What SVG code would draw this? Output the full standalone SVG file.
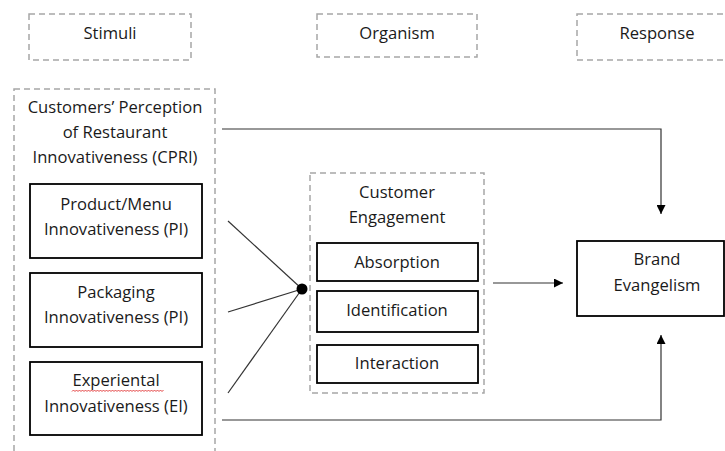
<svg xmlns="http://www.w3.org/2000/svg" width="725" height="451" viewBox="0 0 725 451">
<defs>
<style>
text{font-family:"Open Sans","Liberation Sans",sans-serif;font-size:16.6px;fill:#1a1a1a;text-anchor:middle}
.dash{fill:none;stroke:#a6a6a6;stroke-width:1.5;stroke-dasharray:6,4}
.box{fill:#fff;stroke:#000;stroke-width:1.8}
.ln{fill:none;stroke:#333;stroke-width:1.2}
</style>
<marker id="ah" viewBox="0 0 10 10" refX="10" refY="5" markerWidth="10" markerHeight="9" markerUnits="userSpaceOnUse" orient="auto">
<path d="M0,0 L10,5 L0,10 z" fill="#000"/>
</marker>
</defs>
<rect width="725" height="451" fill="#fff"/>
<g id="stimuli"><rect class="dash" x="29" y="14" width="162" height="46"/><text x="110" y="39">Stimuli</text></g>
<g id="organism"><rect class="dash" x="317" y="14" width="160" height="43"/><text x="397" y="39">Organism</text></g>
<g id="response"><rect class="dash" x="577" y="14" width="160" height="46"/><text x="657" y="39">Response</text></g>
<g id="cpri"><rect class="dash" x="14" y="89" width="201" height="380"/>
<text x="115" y="113">Customers’ Perception</text>
<text x="115" y="138">of Restaurant</text>
<text x="115" y="163">Innovativeness (CPRI)</text></g>
<g id="product"><rect class="box" x="30" y="184" width="172" height="74"/>
<text x="116" y="210">Product/Menu</text><text x="116" y="235">Innovativeness (PI)</text></g>
<g id="packaging"><rect class="box" x="30" y="273" width="172" height="74"/>
<text x="116" y="298">Packaging</text><text x="116" y="323">Innovativeness (PI)</text></g>
<g id="experiential"><rect class="box" x="30" y="362" width="172" height="73"/>
<text x="116" y="386">Experiental</text><text x="116" y="412">Innovativeness (EI)</text>
<path d="M72,391.5 l1.5,-1.5 l1.5,1.5 l1.5,-1.5 l1.5,1.5 l1.5,-1.5 l1.5,1.5 l1.5,-1.5 l1.5,1.5 l1.5,-1.5 l1.5,1.5 l1.5,-1.5 l1.5,1.5 l1.5,-1.5 l1.5,1.5 l1.5,-1.5 l1.5,1.5 l1.5,-1.5 l1.5,1.5 l1.5,-1.5 l1.5,1.5 l1.5,-1.5 l1.5,1.5 l1.5,-1.5 l1.5,1.5 l1.5,-1.5 l1.5,1.5 l1.5,-1.5 l1.5,1.5 l1.5,-1.5 l1.5,1.5 l1.5,-1.5 l1.5,1.5 l1.5,-1.5 l1.5,1.5 l1.5,-1.5 l1.5,1.5 l1.5,-1.5 l1.5,1.5 l1.5,-1.5 l1.5,1.5 l1.5,-1.5 l1.5,1.5 l1.5,-1.5 l1.5,1.5 l1.5,-1.5 l1.5,1.5 l1.5,-1.5 l1.5,1.5 l1.5,-1.5 l1.5,1.5 l1.5,-1.5 l1.5,1.5 l1.5,-1.5 l1.5,1.5 l1.5,-1.5 l1.5,1.5 l1.5,-1.5 l1.5,1.5 l1.5,-1.5 l1.5,1.5 l1.5,-1.5" fill="none" stroke="#e03030" stroke-width="0.9"/></g>
<g id="engagement"><rect class="dash" x="310" y="173" width="174" height="220"/>
<text x="397" y="198">Customer</text><text x="397" y="223">Engagement</text></g>
<g id="absorption"><rect class="box" x="317" y="243" width="161" height="38"/><text x="397" y="268">Absorption</text></g>
<g id="identification"><rect class="box" x="317" y="291" width="161" height="41"/><text x="397" y="316">Identification</text></g>
<g id="interaction"><rect class="box" x="317" y="345" width="161" height="38"/><text x="397" y="369">Interaction</text></g>
<g id="brand"><rect class="box" x="577" y="241" width="147" height="75"/><text x="657" y="265">Brand</text><text x="657" y="291">Evangelism</text></g>
<g id="connectors">
<line class="ln" x1="228" y1="221" x2="302" y2="289"/>
<line class="ln" x1="228" y1="312" x2="302" y2="289"/>
<line class="ln" x1="228" y1="393" x2="302" y2="289"/>
<circle cx="302" cy="289" r="5.5" fill="#000"/>
<line class="ln" x1="493" y1="283" x2="563" y2="283" marker-end="url(#ah)"/>
<polyline class="ln" points="222,129 661,129 661,214" marker-end="url(#ah)"/>
<polyline class="ln" points="222,420 661,420 661,335" marker-end="url(#ah)"/>
</g>
</svg>
